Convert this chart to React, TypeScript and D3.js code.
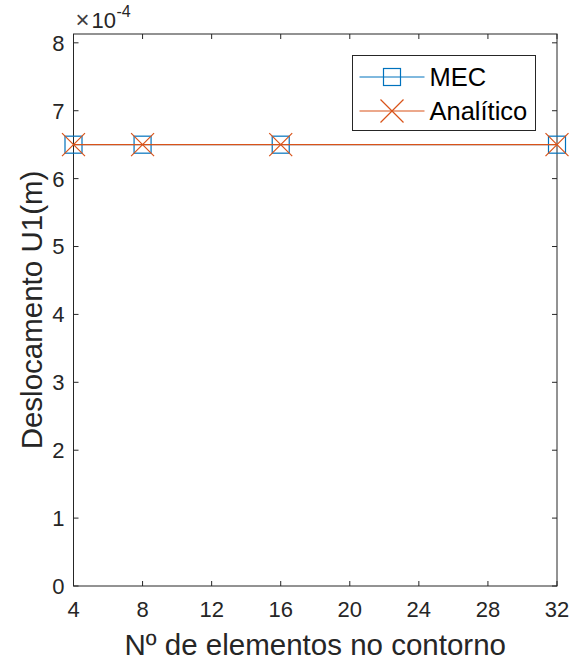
import React, { useEffect, useRef } from 'react';
import * as d3 from 'd3';

// data
const elementos = [4, 8, 16, 32];
const mec = [6.5e-4, 6.5e-4, 6.5e-4, 6.5e-4];
const analitico = [6.5e-4, 6.5e-4, 6.5e-4, 6.5e-4];
const xTicks = [4, 8, 12, 16, 20, 24, 28, 32];
const yTicks = [0, 1, 2, 3, 4, 5, 6, 7, 8];
const seriesNames = ['MEC', 'Analítico'];

const W = 570;
const H = 662;

const App = () => {
  const svgRef = useRef<SVGSVGElement>(null);

  useEffect(() => {
    const svg = d3.select(svgRef.current);
    svg.selectAll('*').remove();

    const margin = { top: 34, right: 13, bottom: 76, left: 73.5 };
    const width = W - margin.left - margin.right;
    const height = H - margin.top - margin.bottom;
    const axisColor = '#262626';
    const font = 'Arial, "Liberation Sans", Helvetica, sans-serif';
    const blue = '#0072BD';
    const orange = '#D95319';

    const x = d3.scaleLinear().domain([4, 32]).range([0, width]);
    const y = d3.scaleLinear().domain([0, 8.13]).range([height, 0]);

    const g = svg.append('g').attr('transform', `translate(${margin.left},${margin.top})`);

    // box
    g.append('rect')
      .attr('width', width)
      .attr('height', height)
      .attr('fill', 'white')
      .attr('stroke', axisColor)
      .attr('stroke-width', 1);

    const tickLen = 5;
    // x ticks (bottom and top, inward)
    xTicks.forEach((t) => {
      g.append('line').attr('x1', x(t)).attr('x2', x(t)).attr('y1', height).attr('y2', height - tickLen).attr('stroke', axisColor);
      g.append('line').attr('x1', x(t)).attr('x2', x(t)).attr('y1', 0).attr('y2', tickLen).attr('stroke', axisColor);
      g.append('text')
        .attr('x', x(t))
        .attr('y', height + 31)
        .attr('text-anchor', 'middle')
        .attr('font-family', font)
        .style('font-size', '22px')
        .attr('fill', axisColor)
        .text(t);
    });

    // y ticks (left and right, inward)
    yTicks.forEach((t) => {
      g.append('line').attr('x1', 0).attr('x2', tickLen).attr('y1', y(t)).attr('y2', y(t)).attr('stroke', axisColor);
      g.append('line').attr('x1', width).attr('x2', width - tickLen).attr('y1', y(t)).attr('y2', y(t)).attr('stroke', axisColor);
      g.append('text')
        .attr('x', -9)
        .attr('y', y(t))
        .attr('dy', '0.36em')
        .attr('text-anchor', 'end')
        .attr('font-family', font)
        .style('font-size', '22px')
        .attr('fill', axisColor)
        .text(t);
    });

    // exponent label (separate pieces)
    g.append('text')
      .attr('x', 2)
      .attr('y', -6)
      .attr('font-family', font)
      .style('font-size', '24px')
      .attr('fill', '#404040')
      .text('×');
    g.append('text')
      .attr('x', 18)
      .attr('y', -6)
      .attr('font-family', font)
      .style('font-size', '22px')
      .attr('fill', axisColor)
      .text('10');
    g.append('text')
      .attr('x', 43)
      .attr('y', -17)
      .attr('font-family', font)
      .style('font-size', '16px')
      .attr('fill', axisColor)
      .text('-4');

    const line = d3
      .line<[number, number]>()
      .x((d) => x(d[0]))
      .y((d) => y(d[1] * 1e4));

    const mecPts = elementos.map((e, i) => [e, mec[i]] as [number, number]);
    const anaPts = elementos.map((e, i) => [e, analitico[i]] as [number, number]);

    const sq = 17;
    const cr = 11.5;

    const drawSquare = (sel: any, cx: number, cy: number) => {
      sel.append('rect')
        .attr('x', cx - sq / 2)
        .attr('y', cy - sq / 2)
        .attr('width', sq)
        .attr('height', sq)
        .attr('fill', 'none')
        .attr('stroke', blue)
        .attr('stroke-width', 1.2);
    };
    const drawCross = (sel: any, cx: number, cy: number) => {
      sel.append('path')
        .attr('d', `M${cx - cr},${cy - cr}L${cx + cr},${cy + cr}M${cx - cr},${cy + cr}L${cx + cr},${cy - cr}`)
        .attr('stroke', orange)
        .attr('stroke-width', 1.2)
        .attr('fill', 'none');
    };

    g.append('path').datum(mecPts).attr('d', line).attr('fill', 'none').attr('stroke', blue).attr('stroke-width', 1);
    mecPts.forEach((p) => drawSquare(g, x(p[0]), y(p[1] * 1e4)));
    g.append('path').datum(anaPts).attr('d', line).attr('fill', 'none').attr('stroke', orange).attr('stroke-width', 1.2);
    anaPts.forEach((p) => drawCross(g, x(p[0]), y(p[1] * 1e4)));

    // legend
    const lg = svg.append('g').attr('transform', 'translate(352.5,55.5)');
    lg.append('rect').attr('width', 183).attr('height', 75).attr('fill', 'white').attr('stroke', axisColor).attr('stroke-width', 1);
    const rows = [21.5, 55.5];
    seriesNames.forEach((name, i) => {
      const cy = rows[i];
      lg.append('line').attr('x1', 7).attr('x2', 72).attr('y1', cy).attr('y2', cy)
        .attr('stroke', i === 0 ? blue : orange).attr('stroke-width', i === 0 ? 1 : 1.2);
      if (i === 0) drawSquare(lg, 39.5, cy);
      else drawCross(lg, 39.5, cy);
      lg.append('text')
        .attr('x', 77)
        .attr('y', cy)
        .attr('dy', '0.36em')
        .attr('font-family', font)
        .style('font-size', '25.5px')
        .attr('fill', '#000')
        .text(name);
    });

    // axis labels
    svg.append('text')
      .attr('x', margin.left + width / 2)
      .attr('y', 655)
      .attr('text-anchor', 'middle')
      .attr('font-family', font)
      .style('font-size', '29.5px')
      .attr('fill', axisColor)
      .text('Nº de elementos no contorno');

    svg.append('text')
      .attr('transform', `translate(42,${margin.top + height / 2}) rotate(-90)`)
      .attr('text-anchor', 'middle')
      .attr('font-family', font)
      .style('font-size', '29.5px')
      .attr('fill', axisColor)
      .text('Deslocamento U1(m)');
  }, []);

  return (
    <svg
      ref={svgRef}
      width={W}
      height={H}
      style={{ position: 'absolute', left: 0, top: 0, background: 'white' }}
    />
  );
};

export default App;
